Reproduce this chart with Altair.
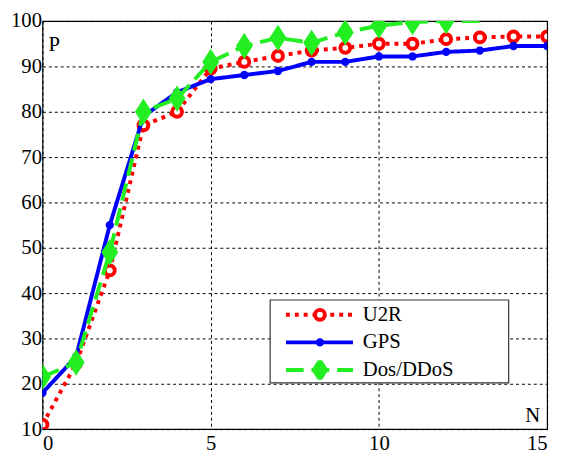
import altair as alt
import pandas as pd

# ---- data ----
N = list(range(16))
series_names = ["U2R", "GPS", "Dos/DDoS"]
u2r = [11, 24.5, 45, 77, 80, 89.5, 91, 92.3, 93.5, 94.1, 95, 95, 96, 96.4, 96.6, 96.6]
gps = [18, 26, 55, 79, 84.3, 87.2, 88.1, 89, 91, 91, 92.2, 92.2, 93.2, 93.5, 94.5, 94.5]
dos = [21.5, 24.7, 49, 80, 82.9, 91, 94.5, 96.3, 95.2, 97.5, 99, 99.8, 100, 100]
marker_counts = [16, 16, 13]  # points drawn with a marker per series

x_ticks = [0, 5, 10, 15]
y_ticks = [10, 20, 30, 40, 50, 60, 70, 80, 90, 100]
x_label = "N"
y_label = "P"

# ---- styles ----
colors = ["#ff0000", "#0000ff", "#22ee22"]
marker_fill = ["#ffffff", "#0000ff", "#22ee22"]
DIAMOND = "M0,-1.25L0.8,0L0,1.25L-0.8,0Z"
shapes = ["circle", "circle", DIAMOND]
marker_sizes = [100, 20, 240]
dashes = [[4, 5], [1, 0], [18, 8]]
FONT = "Liberation Serif"
FS = 21

rows = []
for i, (name, vals) in enumerate(zip(series_names, [u2r, gps, dos])):
    for k, (n, p) in enumerate(zip(N, vals)):
        rows.append({"N": n, "P": p, "series": name, "idx": i,
                     "marker": k < marker_counts[i]})
df = pd.DataFrame(rows)

W, H = 512, 414
LX, LY = 245, 288          # legend entries origin (plot coordinates)
BOX = (231, 473, 283, 367)  # legend frame x, x2, y, y2

line_legend = alt.Legend(
    title=None, orient="none", legendX=LX, legendY=LY, padding=0,
    symbolType="stroke", symbolSize=4624, symbolStrokeWidth=4,
    labelFont=FONT, labelFontSize=FS, labelColor="black",
    labelOffset=8, rowPadding=7, clipHeight=20,
)
marker_legend = alt.Legend(
    title=None, orient="none", legendX=LX + 26, legendY=LY, padding=0,
    symbolStrokeWidth=4, labelExpr="''",
    labelFontSize=FS, rowPadding=7, clipHeight=20,
)

xs = alt.X("N:Q", scale=alt.Scale(domain=[0, 15], nice=False),
           axis=alt.Axis(values=x_ticks, title=None, format="d"))
ys = alt.Y("P:Q", scale=alt.Scale(domain=[10, 100], nice=False, zero=False),
           axis=alt.Axis(values=y_ticks, title=None, format="d", labelPadding=1))

idx_dom = [0, 1, 2]
layers = []
for i, name in enumerate(series_names):
    base = alt.Chart(df).transform_filter(alt.datum.idx == i)
    line = base.mark_line(strokeWidth=4, strokeCap="butt", clip=True).encode(
        x=xs, y=ys,
        color=alt.Color("series:N", scale=alt.Scale(domain=series_names, range=colors),
                        legend=line_legend),
        strokeDash=alt.StrokeDash("series:N", scale=alt.Scale(domain=series_names, range=dashes),
                                  legend=line_legend),
    )
    pts = base.transform_filter(alt.datum.marker).mark_point(
        filled=False, opacity=1, strokeWidth=4, clip=True).encode(
        x=xs, y=ys,
        shape=alt.Shape("idx:N", scale=alt.Scale(domain=idx_dom, range=shapes), legend=marker_legend),
        fill=alt.Fill("idx:N", scale=alt.Scale(domain=idx_dom, range=marker_fill), legend=marker_legend),
        stroke=alt.Stroke("idx:N", scale=alt.Scale(domain=idx_dom, range=colors), legend=marker_legend),
        size=alt.Size("idx:N", scale=alt.Scale(type="ordinal", domain=idx_dom, range=marker_sizes),
                      legend=marker_legend),
    )
    layers += [line, pts]

legend_frame = alt.Chart(pd.DataFrame({"k": [0]})).mark_rect(
    fill="white", stroke="#333333", strokeWidth=1.2).encode(
    x=alt.value(BOX[0]), x2=alt.value(BOX[1]), y=alt.value(BOX[2]), y2=alt.value(BOX[3]))

p_text = alt.Chart(pd.DataFrame({"t": [y_label]})).mark_text(
    font=FONT, fontSize=FS, color="black", align="left", baseline="middle").encode(
    text="t:N", x=alt.value(6), y=alt.value(24))
n_text = alt.Chart(pd.DataFrame({"t": [x_label]})).mark_text(
    font=FONT, fontSize=FS, color="black", align="right", baseline="middle").encode(
    text="t:N", x=alt.value(W - 7), y=alt.value(H - 13))

chart = alt.layer(*layers, legend_frame, p_text, n_text).properties(
    width=W, height=H,
    autosize=alt.AutoSizeParams(type="none"),
    padding={"left": 35, "top": 10, "right": 8, "bottom": 24},
    background="white",
).configure_view(
    stroke="black", strokeWidth=1.2
).configure_axis(
    grid=True, gridColor="black", gridDash=[3, 3], gridWidth=1, gridOpacity=1,
    domain=False, ticks=False,
    labelFont=FONT, labelFontSize=FS, labelColor="black", labelPadding=4,
).configure_axisX(labelPadding=4)

chart.save("out.html", embed_options={"renderer": "svg", "actions": False})
